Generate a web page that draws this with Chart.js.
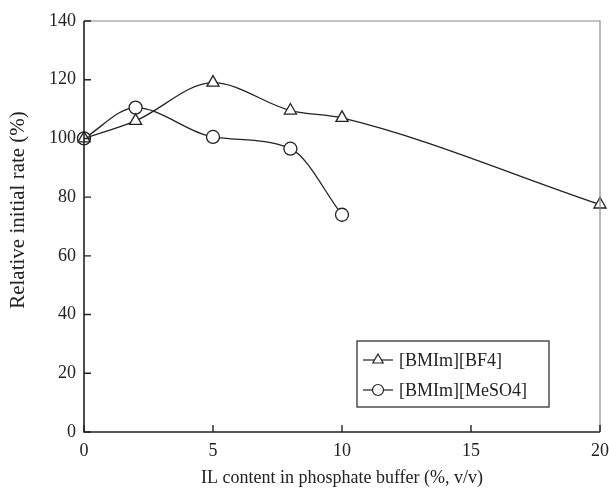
<!DOCTYPE html>
<html>
<head>
<meta charset="utf-8">
<script src="https://cdn.jsdelivr.net/npm/chart.js@4.4.0/dist/chart.umd.min.js"></script>
<style>
html,body{margin:0;padding:0;background:#fff;}
#wrap{width:609px;height:489px;position:relative;}
</style>
</head>
<body>
<div id="wrap"><canvas id="c" width="609" height="489"></canvas></div>
<script>
const xTicks = [0, 5, 10, 15, 20];
const yTicks = [0, 20, 40, 60, 80, 100, 120, 140];
const bf4X = [0, 2, 5, 8, 10, 20];
const bf4Y = [100, 106, 119, 109.5, 107, 77.5];
const meso4X = [0, 2, 5, 8, 10];
const meso4Y = [100, 110.5, 100.5, 96.5, 74];
const seriesLabels = ['[BMIm][BF4]', '[BMIm][MeSO4]'];
const xTitle = 'IL content in phosphate buffer (%, v/v)';
const yTitle = 'Relative initial rate (%)';

const ink = '#222';
const FONT = 'Liberation Serif, Times New Roman, serif';

function pts(xs, ys){ return xs.map((x,i)=>({x:x,y:ys[i]})); }

const framePlugin = {
  id:'frame',
  afterDatasetsDraw(chart){
    const {ctx, chartArea:a, scales} = chart;
    ctx.save();
    ctx.strokeStyle = '#888';
    ctx.lineWidth = 1.2;
    ctx.beginPath();
    ctx.moveTo(a.left, a.top); ctx.lineTo(a.right, a.top); ctx.lineTo(a.right, a.bottom);
    ctx.stroke();
    ctx.strokeStyle = ink;
    ctx.lineWidth = 1.6;
    ctx.beginPath();
    ctx.moveTo(a.left, a.top); ctx.lineTo(a.left, a.bottom); ctx.lineTo(a.right, a.bottom);
    ctx.stroke();
    ctx.lineWidth = 1.4;
    ctx.beginPath();
    yTicks.forEach(v=>{ const y = scales.y.getPixelForValue(v); ctx.moveTo(a.left, y); ctx.lineTo(a.left+7, y); });
    xTicks.forEach(v=>{ const x = scales.x.getPixelForValue(v); ctx.moveTo(x, a.bottom); ctx.lineTo(x, a.bottom-7); });
    ctx.stroke();
    ctx.restore();
  },
  afterDraw(chart){
    const {ctx, chartArea:a} = chart;
    ctx.save();
    // axis titles
    ctx.fillStyle = ink;
    ctx.textAlign = 'center';
    ctx.textBaseline = 'middle';
    ctx.font = '18px ' + FONT;
    ctx.fillText(xTitle, (a.left + a.right)/2, 478);
    ctx.save();
    ctx.translate(18, 210);
    ctx.rotate(-Math.PI/2);
    ctx.font = '21px ' + FONT;
    ctx.fillText(yTitle, 0, 0);
    ctx.restore();
    // legend
    const bx = 357, by = 341, bw = 192, bh = 66;
    ctx.fillStyle = '#fff';
    ctx.fillRect(bx, by, bw, bh);
    ctx.strokeStyle = ink;
    ctx.lineWidth = 1.2;
    ctx.strokeRect(bx, by, bw, bh);
    const rows = [by+19, by+49];
    chart.data.datasets.forEach((ds, i)=>{
      const y = rows[i];
      ctx.strokeStyle = ink; ctx.lineWidth = 1.2;
      ctx.beginPath(); ctx.moveTo(363, y); ctx.lineTo(393, y); ctx.stroke();
      ctx.fillStyle = '#fff';
      Chart.helpers.drawPoint(ctx, {pointStyle: ds.pointStyle, radius: ds.pointStyle==='triangle'?6:5.5, borderWidth:1.2, rotation:0}, 378, y);
      ctx.fillStyle = ink;
      ctx.font = '18px ' + FONT;
      ctx.textBaseline = 'middle';
      ctx.textAlign = 'left';
      ctx.fillText(ds.label, 399, y+1);
    });
    ctx.restore();
  }
};

new Chart(document.getElementById('c'), {
  type:'line',
  data:{
    datasets:[
      {label:seriesLabels[0], data:pts(bf4X,bf4Y), pointStyle:'triangle', pointRadius:7, pointBorderWidth:1.3,
       borderColor:ink, backgroundColor:'#fff', pointBackgroundColor:'#fff', pointBorderColor:ink, borderWidth:1.3,
       cubicInterpolationMode:'monotone'},
      {label:seriesLabels[1], data:pts(meso4X,meso4Y), pointStyle:'circle', pointRadius:6.5, pointBorderWidth:1.3,
       borderColor:ink, backgroundColor:'#fff', pointBackgroundColor:'#fff', pointBorderColor:ink, borderWidth:1.3,
       cubicInterpolationMode:'monotone'}
    ]
  },
  options:{
    responsive:false,
    animation:false,
    clip:false,
    layout:{padding:{top:21, right:9, left:0, bottom:0}},
    plugins:{legend:{display:false}, tooltip:{enabled:false}},
    scales:{
      x:{type:'linear', min:0, max:20,
         afterBuildTicks(s){ s.ticks = xTicks.map(v=>({value:v})); },
         afterFit(s){ s.height = 57; s.paddingLeft = 0; s.paddingRight = 0; },
         grid:{display:false, drawTicks:false},
         border:{display:false},
         ticks:{color:ink, font:{family:FONT, size:18}, padding:8, maxRotation:0, autoSkip:false},
         title:{display:false}
      },
      y:{type:'linear', min:0, max:140,
         afterBuildTicks(s){ s.ticks = yTicks.map(v=>({value:v})); },
         afterFit(s){ s.width = 84; s.paddingTop = 0; s.paddingBottom = 0; },
         grid:{display:false, drawTicks:false},
         border:{display:false},
         ticks:{color:ink, font:{family:FONT, size:18}, padding:8, autoSkip:false},
         title:{display:false}
      }
    }
  },
  plugins:[framePlugin]
});
</script>
</body>
</html>
